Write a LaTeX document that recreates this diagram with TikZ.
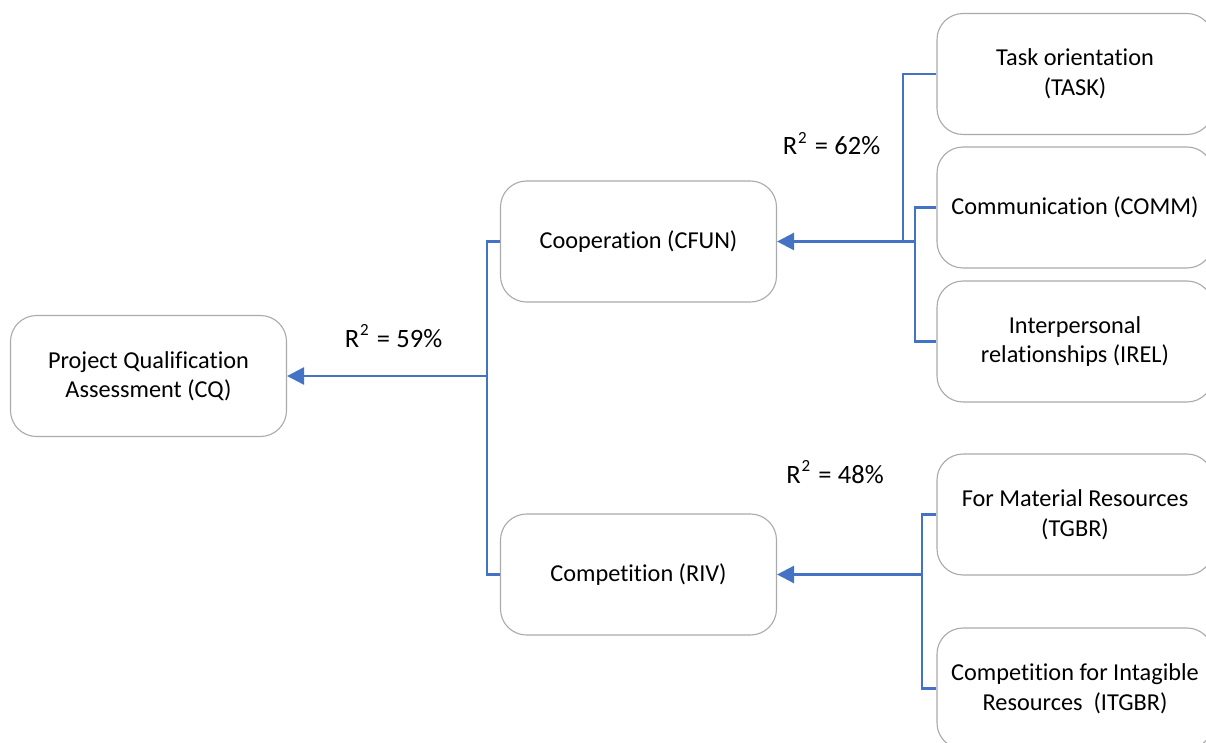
\documentclass[tikz,border=0pt]{standalone}
\usepackage{fontspec}
\setmainfont{Carlito}[Ligatures={NoCommon}]
\usetikzlibrary{arrows.meta}
\definecolor{lineblue}{RGB}{68,114,196}
\definecolor{boxgray}{RGB}{170,170,170}
\newcommand{\rsq}[1]{R\hspace{1pt}\raisebox{11.5pt}{\fontsize{17}{17}\selectfont 2}\hspace{8pt}=\hspace{6.5pt}#1}
\tikzset{
  box/.style={draw=boxgray, line width=1.1pt, rounded corners=26pt, fill=white,
    minimum width=276pt, minimum height=121pt, align=center, inner sep=0pt,
    font=\fontsize{24.3}{29.5}\selectfont},
  branch/.style={draw=lineblue, line width=2.4pt},
  arr/.style={draw=lineblue, line width=2.6pt, -{Triangle[length=17pt,width=17pt]}},
  rlabel/.style={anchor=base, inner sep=0pt, font=\fontsize{26.5}{31}\selectfont}
}
\begin{document}
\begin{tikzpicture}[x=1pt,y=-1pt]
\useasboundingbox (0,0) rectangle (1206,743);
\clip (0,0) rectangle (1206,743);
% boxes
\node[box] (cq) at (148.5,376) {Project Qualification\\Assessment (CQ)};
\node[box] (cfun) at (638.5,241.5) {Cooperation (CFUN)};
\node[box] (riv) at (638.5,574.5) {Competition (RIV)};
\node[box] (task) at (1075,74) {Task orientation\\(TASK)};
\node[box] (comm) at (1075,207.5) {Communication (COMM)};
\node[box] (irel) at (1075,341.5) {Interpersonal\\relationships (IREL)};
\node[box] (tgbr) at (1075,514.5) {For Material Resources\\(TGBR)};
\node[box] (itgbr) at (1075,688.5) {Competition for Intagible\\Resources\ \ (ITGBR)};
% junctions
\coordinate (jA) at (487,376);
\coordinate (jB) at (903,241.5);
\coordinate (jC) at (915,241.5);
\coordinate (jD) at (922,574.5);
% left group
\draw[branch] (cfun.west) -| (jA) |- (riv.west);
\draw[arr] (jA) -- (cq.east);
% upper group
\draw[branch] (task.west) -| (jB);
\draw[branch] (comm.west) -| (jC) |- (irel.west);
\draw[arr] (jC) -- (cfun.east);
% lower group
\draw[branch] (tgbr.west) -| (jD) |- (itgbr.west);
\draw[arr] (jD) -- (riv.east);
% labels
\node[rlabel] (r1) at (393.5,347) {\rsq{59\%}};
\node[rlabel] (r2) at (831.5,155) {\rsq{62\%}};
\node[rlabel] (r3) at (835,483) {\rsq{48\%}};
\end{tikzpicture}
\end{document}
